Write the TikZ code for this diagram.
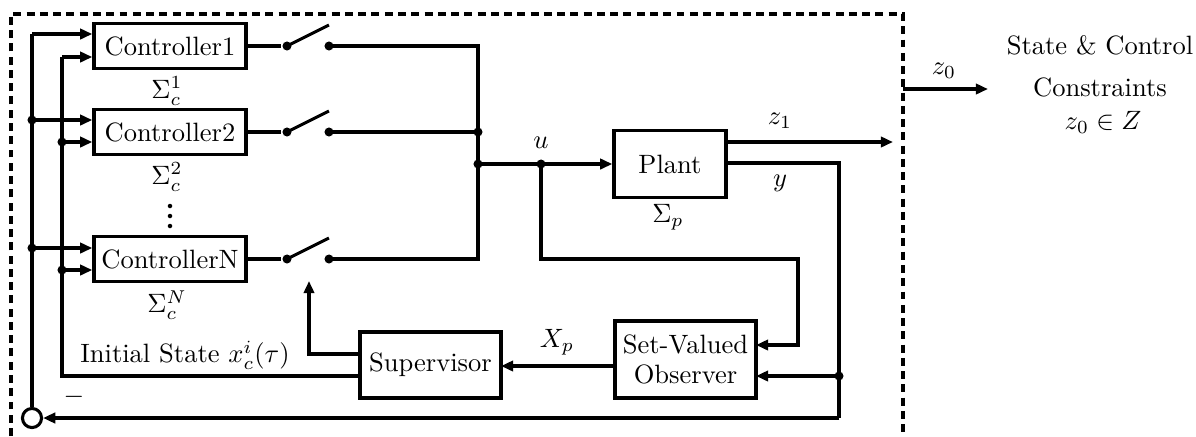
\documentclass[tikz,border=0pt]{standalone}
\usetikzlibrary{arrows.meta}
\begin{document}
\begin{tikzpicture}[x=0.377pt,y=-0.377pt,
  line width=1.15pt,
  arr/.style={-{Triangle[length=4.6pt,width=3.9pt]}},
  blk/.style={draw,line width=1.3pt,inner sep=0pt,align=center},
  ctrl/.style={blk,minimum width=57.3pt,minimum height=17pt},
  dot/.style={circle,fill,inner sep=0pt,minimum size=3.4pt},
  sdot/.style={circle,fill,inner sep=0pt,minimum size=1.7pt},
  lbl/.style={inner sep=0pt}]
\useasboundingbox (0,0) rectangle (1196,436);
% dashed frame
\draw[dashed,dash pattern=on 3pt off 2pt] (11,436) -- (11,14) -- (903,14) -- (903,436);
% blocks
\node[ctrl] (c1) at (170,46) {Controller1};
\node[ctrl] (c2) at (170,132) {Controller2};
\node[ctrl] (cN) at (170,259) {ControllerN};
\node[blk,minimum width=42.2pt,minimum height=25.3pt] (plant) at (670,164) {Plant};
\node[blk,minimum width=53.2pt,minimum height=24.9pt] (sup) at (430.5,365) {Supervisor};
\node[blk,minimum width=53.2pt,minimum height=29pt] (obs) at (685.5,359.5) {Set-Valued\\[-1pt]Observer};
\node[draw,circle,line width=1.15pt,minimum size=7.2pt,inner sep=0pt] (sum) at (32,418) {};
% labels
\node[lbl] (l1) at (167,91) {$\Sigma_c^1$};
\node[lbl] (l2) at (167,177) {$\Sigma_c^2$};
\node[lbl] (lN) at (167,305) {$\Sigma_c^N$};
\node[lbl] (lp) at (668,217) {$\Sigma_p$};
\node[lbl] (lu) at (541,143) {$u$};
\node[lbl] (lz1) at (780,121) {$z_1$};
\node[lbl] (ly) at (780,183) {$y$};
\node[lbl] (lX) at (557,342) {$X_p$};
\node[lbl] (lis) at (185,355) {Initial State $x_c^i(\tau)$};
\node[lbl] (lm) at (74,397) {$-$};
\node[lbl] (lz0) at (944,71) {$z_0$};
\node[lbl] (t1) at (1100,45) {State \& Control};
\node[lbl] (t2) at (1100,87) {Constraints};
\node[lbl] (t3) at (1103,122) {$z_0\in Z$};
% vertical dots
\node[sdot] (v1) at (170,206) {};
\node[sdot] (v2) at (170,216) {};
\node[sdot] (v3) at (170,226) {};
% switches
\foreach \n/\yy in {1/46,2/132,N/259}{
  \node[dot] (s\n l) at (287,\yy) {};
  \node[dot] (s\n r) at (329,\yy) {};
  \coordinate (s\n t) at (329,\yy-21);
  \draw (s\n l.center) -- (s\n t);
}
\draw (c1.east) -- (s1l);
\draw (c2.east) -- (s2l);
\draw (cN.east) -- (sNl);
% bus
\coordinate (b1) at (478,46);
\coordinate (bN) at (478,259);
\node[dot] (j2) at (478,132) {};
\node[dot] (j3) at (478,164) {};
\draw (s1r.center) -- (b1) -- (bN) -- (sNr.center);
\draw (s2r.center) -- (j2.center);
\node[dot] (ju) at (541,164) {};
\draw (j3.center) -- (ju.center);
\draw[arr] (ju.center) -- (plant.west);
% u to observer
\coordinate (uc) at (541,259);
\coordinate (ur) at (798,259);
\coordinate (oi1) at (756,345);
\draw[arr] (ju.center) -- (uc) -- (ur) |- (oi1);
% z1 output
\coordinate (pz) at (726,142);
\coordinate (z1e) at (893,142);
\draw[arr] (pz) -- (z1e);
% y feedback
\coordinate (py) at (726,163);
\coordinate (yc) at (839,163);
\coordinate (yb) at (839,418);
\node[dot] (jy) at (839,376) {};
\coordinate (oi2) at (756,376);
\draw (py) -- (yc) -- (yb);
\draw[arr] (yb) -- (sum.east);
\draw[arr] (jy.center) -- (oi2);
% observer to supervisor
\coordinate (oo) at (615,366);
\coordinate (si) at (501,366);
\draw[arr] (oo) -- (si);
% supervisor to switch
\coordinate (so) at (360,354);
\coordinate (sa) at (309,281);
\draw[arr] (so) -| (sa);
% initial state line
\coordinate (sl) at (360,376);
\coordinate (ib) at (62,376);
\coordinate (it) at (62,57);
\draw (sl) -- (ib) -- (it);
\draw[arr] (it) -- (c1.west |- it);
\node[dot] (i2) at (62,142) {};
\node[dot] (iN) at (62,270) {};
\draw[arr] (i2.center) -- (c2.west |- i2);
\draw[arr] (iN.center) -- (cN.west |- iN);
% outer feedback line
\coordinate (ot) at (32,34);
\draw (sum.north) -- (ot);
\draw[arr] (ot) -- (c1.west |- ot);
\node[dot] (o2) at (32,120) {};
\node[dot] (oN) at (32,248) {};
\draw[arr] (o2.center) -- (c2.west |- o2);
\draw[arr] (oN.center) -- (cN.west |- oN);
% z0 output
\coordinate (z0s) at (903,89);
\coordinate (z0e) at (988,89);
\draw[arr] (z0s) -- (z0e);
\end{tikzpicture}
\end{document}
